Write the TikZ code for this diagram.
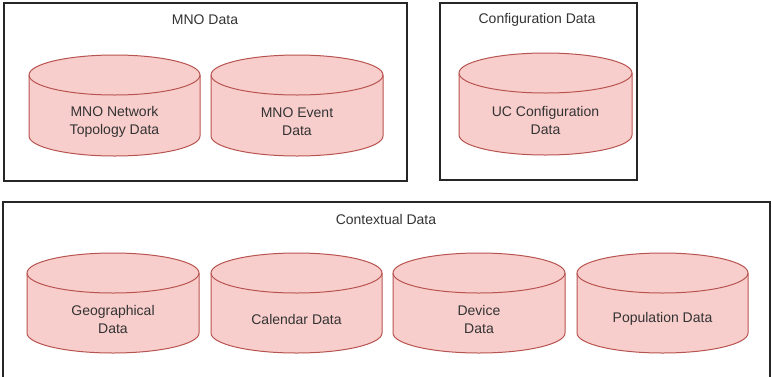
\documentclass[tikz,border=0pt]{standalone}
\usepackage{fontspec}
\setmainfont{Liberation Sans}
\definecolor{cylfill}{HTML}{F8CECC}
\definecolor{cylline}{HTML}{B85450}
\definecolor{txt}{HTML}{333333}
\tikzset{
  cylstyle/.style={draw=cylline, fill=cylfill, line width=1pt},
  lbl/.style={text=txt, font=\fontsize{14}{18}\selectfont, align=center, inner sep=0pt},
  boxstyle/.style={draw=black!85, line width=1.2pt, fill=none, inner sep=0pt},
}
\newcommand\dbcyl[6]{%
  \pgfmathsetmacro\cx{(#2+#4)/2}%
  \pgfmathsetmacro\rx{(#4-#2)/2}%
  \filldraw[cylstyle] (#2,#3+20) -- (#2,#5-20)
     arc[start angle=180,end angle=0,x radius=\rx,y radius=20] -- (#4,#3+20)
     arc[start angle=0,end angle=-180,x radius=\rx,y radius=20] -- cycle;
  \draw[cylstyle,fill=none] (#2,#3+20) arc[start angle=180,end angle=0,x radius=\rx,y radius=20];
  \node[lbl] (#1) at (\cx,{(#3+#5)/2+16}) {#6};
}
\begin{document}
\begin{tikzpicture}[x=1pt,y=-1pt]
\useasboundingbox[fill=white] (0,0) rectangle (772,376);
% containers
\node[boxstyle, minimum width=403pt, minimum height=178pt] (mno) at (205.5,92) {};
\node[boxstyle, minimum width=197pt, minimum height=177pt] (conf) at (538.5,91.5) {};
\node[boxstyle, minimum width=767pt, minimum height=180pt] (ctx) at (386.5,292) {};
% titles
\node[lbl] (mnot) at (205,20) {MNO Data};
\node[lbl] (conft) at (537,20) {Configuration Data};
\node[lbl] (ctxt) at (386,219) {Contextual Data};
% cylinders
\dbcyl{topo}{29}{55}{200}{156}{MNO Network\\Topology Data}
\dbcyl{event}{211}{55}{383}{156}{MNO Event\\Data}
\dbcyl{ucconf}{459}{53}{632}{155}{UC Configuration\\Data}
\dbcyl{geo}{27}{253}{199}{353}{Geographical\\Data}
\dbcyl{cal}{211}{253}{382}{353}{Calendar Data}
\dbcyl{dev}{393}{253}{565}{353}{Device\\Data}
\dbcyl{pop}{577}{253}{748}{353}{Population Data}
\end{tikzpicture}
\end{document}
